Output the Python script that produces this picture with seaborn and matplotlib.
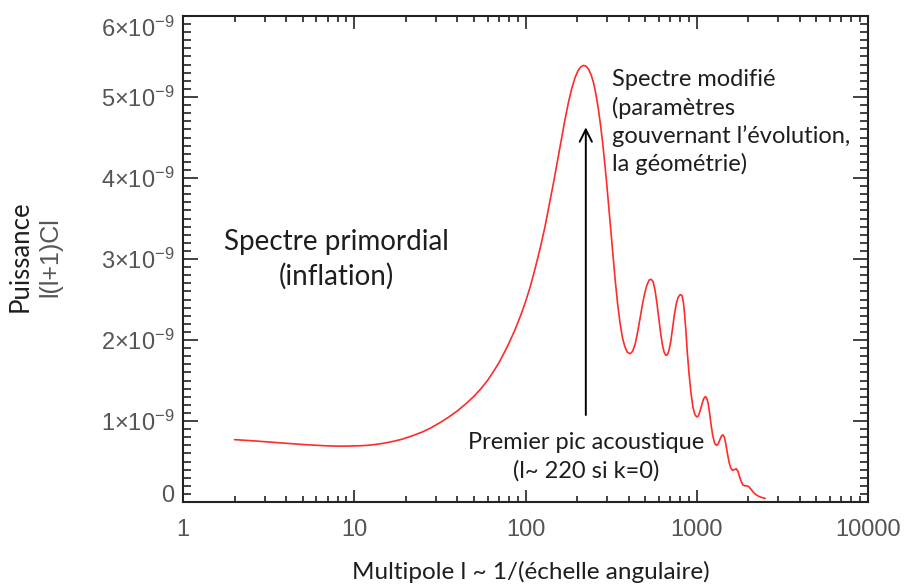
import numpy as np
import pandas as pd
import matplotlib
matplotlib.use('Agg')
import matplotlib.pyplot as plt
import matplotlib.ticker as mticker
import matplotlib.transforms as mtrans
import seaborn as sns

sns.set_style('ticks')
plt.rcParams['font.family'] = ['Liberation Sans', 'DejaVu Sans']
plt.rcParams['mathtext.fontset'] = 'custom'
plt.rcParams['mathtext.rm'] = 'Liberation Sans'
plt.rcParams['mathtext.it'] = 'Liberation Sans:italic'

# multipole l and power l(l+1)Cl (units of 1e-9)
multipole = [2, 2.5, 3, 3.5, 4, 5, 6, 7, 8, 9, 10, 11, 12, 13.5, 15, 17, 19,
             22, 25, 28, 32, 36, 40, 45, 50, 55, 60, 65, 70, 75, 80, 87, 94,
             100, 107, 115, 122, 130, 138, 146, 154, 162, 170, 178, 186, 194,
             202, 210, 218, 226, 234, 242, 250, 258, 266, 274, 282, 290, 298,
             306, 315, 324, 334, 345, 356, 368, 380, 393, 408, 422, 437, 452,
             467, 482, 497, 512, 527, 541, 556, 570, 585, 600, 615, 630, 645,
             660, 675, 690, 705, 720, 740, 760, 780, 800, 820, 835, 850, 865,
             880, 900, 925, 950, 975, 1000, 1020, 1045, 1070, 1095, 1120, 1140,
             1165, 1190, 1215, 1240, 1270, 1300, 1330, 1360, 1390, 1420, 1450,
             1480, 1510, 1545, 1580, 1620, 1660, 1700, 1740, 1780, 1820, 1860,
             1910, 1960, 2010, 2070, 2140, 2220, 2300, 2400, 2510]
power = [0.77, 0.757, 0.745, 0.735, 0.725, 0.71, 0.70, 0.693, 0.69, 0.69,
         0.692, 0.695, 0.70, 0.712, 0.727, 0.75, 0.775, 0.82, 0.865, 0.915,
         0.985, 1.055, 1.125, 1.215, 1.305, 1.40, 1.50, 1.61, 1.72, 1.84, 1.96,
         2.13, 2.31, 2.47, 2.67, 2.92, 3.14, 3.40, 3.68, 3.95, 4.22, 4.47, 4.72,
         4.93, 5.10, 5.23, 5.32, 5.37, 5.39, 5.38, 5.34, 5.27, 5.17, 5.03, 4.86,
         4.66, 4.44, 4.19, 3.93, 3.66, 3.35, 3.05, 2.74, 2.45, 2.22, 2.03, 1.92,
         1.85, 1.83, 1.86, 1.95, 2.10, 2.27, 2.44, 2.58, 2.68, 2.74, 2.75, 2.72,
         2.62, 2.46, 2.27, 2.09, 1.94, 1.85, 1.81, 1.82, 1.88, 1.98, 2.12, 2.31,
         2.45, 2.53, 2.56, 2.55, 2.47, 2.31, 2.10, 1.86, 1.60, 1.35, 1.17, 1.08,
         1.05, 1.06, 1.12, 1.20, 1.27, 1.30, 1.29, 1.22, 1.09, 0.94, 0.82, 0.73,
         0.70, 0.71, 0.76, 0.81, 0.83, 0.80, 0.71, 0.60, 0.49, 0.42, 0.39, 0.40,
         0.41, 0.38, 0.31, 0.25, 0.21, 0.20, 0.20, 0.19, 0.16, 0.12, 0.09, 0.07,
         0.055, 0.045]

df = pd.DataFrame({'l': multipole, 'cl': np.array(power) * 1e-9})

fig = plt.figure(figsize=(9.05, 5.87), dpi=100)
ax = fig.add_axes([183/905, 1 - 502/587, (868 - 183)/905, (502 - 16)/587])

sns.lineplot(data=df, x='l', y='cl', color='#ff2a2a', linewidth=1.2,
             estimator=None, sort=False, ax=ax)

ax.set_xscale('log')
ax.set_xlim(1, 10000)
ax.set_ylim(0, 6e-9)
ax.set_xlabel('')
ax.set_ylabel('')

ax.xaxis.set_major_locator(mticker.LogLocator(base=10))
ax.xaxis.set_minor_locator(mticker.LogLocator(base=10, subs=np.arange(2, 10)))
ax.xaxis.set_major_formatter(mticker.FuncFormatter(lambda v, p: '%g' % v))
ax.xaxis.set_minor_formatter(mticker.NullFormatter())
ax.yaxis.set_major_locator(mticker.MultipleLocator(1e-9))
ax.yaxis.set_minor_locator(mticker.MultipleLocator(1e-10))


def yfmt(v, p):
  n = int(round(v * 1e9))
  if n == 0:
    return '0'
  return r'$%d{\times}10^{-9}$' % n


ax.yaxis.set_major_formatter(mticker.FuncFormatter(yfmt))

for s in ax.spines.values():
  s.set_linewidth(1.5)
  s.set_color('#222222')
ax.tick_params(which='both', direction='in', top=True, right=True,
               colors='#222222', labelcolor='#555555', labelsize=17, width=1.2)
ax.tick_params(axis='x', which='major', length=9, pad=12)
ax.tick_params(axis='x', which='minor', length=4.5)
ax.tick_params(axis='y', which='major', length=11, pad=6)
ax.tick_params(axis='y', which='minor', length=6)

ann = dict(family=['Lato', 'DejaVu Sans'], color='#1e1e1e')
ax.text(7.9, 3.21e-9, 'Spectre primordial', ha='center', va='center',
        fontsize=20, **ann)
ax.text(7.9, 2.79e-9, '(inflation)', ha='center', va='center',
        fontsize=20, **ann)
ax.text(320, 4.69e-9, 'Spectre modifié\n(paramètres\ngouvernant l\u2019évolution,\nla géométrie)',
        ha='left', va='center', fontsize=17, linespacing=1.35, **ann)
ax.text(225, 0.56e-9, 'Premier pic acoustique\n(l~ 220 si k=0)', ha='center',
        va='center', fontsize=17, linespacing=1.4, **ann)
ax.annotate('', xy=(225, 4.66e-9), xytext=(225, 1.04e-9),
            arrowprops=dict(arrowstyle='->', color='black', lw=1.4,
                            mutation_scale=22))

fig.text(531/905, 1 - 572/587, 'Multipole l ~ 1/(échelle angulaire)',
         ha='center', va='center', fontsize=17.5, **ann)
fig.text(20/905, 1 - 256/587, 'Puissance', rotation=90, ha='center',
         va='center', fontsize=18.5, **ann)
fig.text(50/905, 1 - 257/587, 'l(l+1)Cl', rotation=90, ha='center',
         va='center', fontsize=18, color='#555555')

# nudge the end labels inside, like the reference
fig.canvas.draw()
for t in ax.yaxis.get_major_ticks():
  loc = t.get_loc()
  if abs(loc - 6e-9) < 1e-12:
    off = mtrans.ScaledTranslation(0, -8/72, fig.dpi_scale_trans)
    t.label1.set_transform(t.label1.get_transform() + off)
  elif abs(loc) < 1e-12:
    off = mtrans.ScaledTranslation(0, 6/72, fig.dpi_scale_trans)
    t.label1.set_transform(t.label1.get_transform() + off)

fig.savefig('out.png', dpi=100)
